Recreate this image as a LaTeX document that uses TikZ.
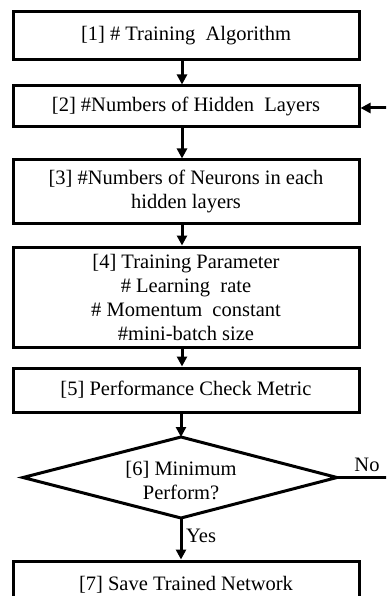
\documentclass[tikz,border=0pt]{standalone}
\usepackage{fontspec}
\setmainfont{Liberation Serif}
\usetikzlibrary{arrows.meta}
\begin{document}
\begin{tikzpicture}[x=1pt,y=-1pt,
  every node/.style={font=\fontsize{20.5}{24}\selectfont},
  box/.style={draw,line width=3pt,rectangle,minimum width=346pt,inner sep=0pt,align=center},
  arr/.style={line width=3pt,-{Triangle[length=10pt,width=10pt]}},
  ln/.style={line width=3pt}]
\clip (0,0) rectangle (386,596);
\node[box,minimum height=48pt] (b1) at (186,36) {[1] \# Training\ \ Algorithm};
\node[box,minimum height=41pt] (b2) at (186,106.5) {[2] \#Numbers of Hidden\ \ Layers};
\node[box,minimum height=63pt] (b3) at (186,191.5) {[3] \#Numbers of Neurons in each\\hidden layers};
\node[box,minimum height=100pt] (b4) at (186,297) {[4] Training Parameter\\\# Learning\ \ rate\\\# Momentum\ \ constant\\\#mini-batch size};
\node[box,minimum height=44pt] (b5) at (186,390) {[5] Performance Check Metric};
\coordinate (dt) at (181,437);
\coordinate (db) at (181,518);
\coordinate (dl) at (23,477.5);
\coordinate (dr) at (337,477.5);
\draw[ln,line join=miter] (dt) -- (dr) -- (db) -- (dl) -- cycle;
\node[align=center,inner sep=0pt] (d) at (181,481) {[6] Minimum\\Perform?};
\node[box,minimum height=48pt] (b7) at (186,585) {[7] Save Trained Network};
\coordinate (ax) at (182,0);
\draw[arr] (b1.south -| ax) -- (b2.north -| ax);
\draw[arr] (b2.south -| ax) -- (b3.north -| ax);
\draw[arr] (b3.south -| ax) -- (b4.north -| ax);
\draw[arr] (b4.south -| ax) -- (b5.north -| ax);
\draw[arr] (b5.south -| dt) -- (dt);
\draw[arr] (db) -- (b7.north -| db);
\node[anchor=base west,inner sep=0pt] (yes) at (186,542) {Yes};
\coordinate (e2) at (388,477.5);
\draw[ln] (dr) -- (e2);
\node[anchor=base,inner sep=0pt] (no) at (367,471) {No};
\coordinate (e1) at (388,108);
\draw[arr] (e1) -- (b2.east |- e1);
\end{tikzpicture}
\end{document}
